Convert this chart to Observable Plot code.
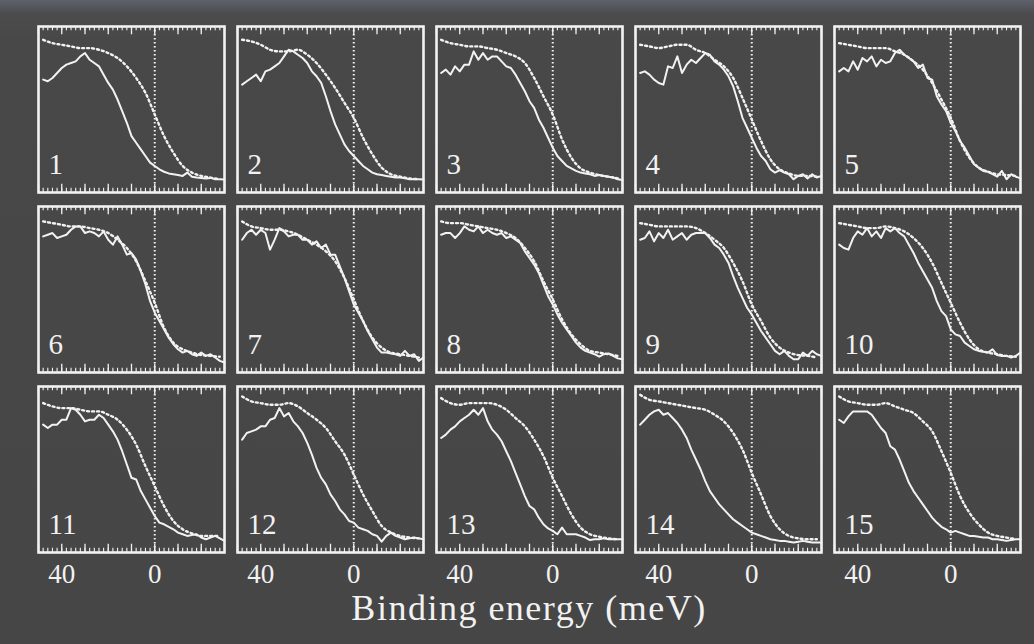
<!DOCTYPE html>
<html>
<head>
<meta charset="utf-8">
<script src="https://cdn.jsdelivr.net/npm/d3@7"></script>
<script src="https://cdn.jsdelivr.net/npm/@observablehq/plot@0.6"></script>
<style>
  html, body { margin: 0; padding: 0; }
  body {
    width: 1034px; height: 644px; overflow: hidden; position: relative;
    background: linear-gradient(to bottom, #5e606a 0px, #585a62 5px, #4c4c4e 13px, #484848 40px, #464646 100%);
    font-family: "Liberation Serif", "DejaVu Serif", serif;
  }
  #chart { position: absolute; left: 0; top: 0; }
  #title {
    position: absolute; top: 587px; left: 529px; transform: translateX(-50%);
    color: #f2f2f2; font-size: 36px; letter-spacing: 1.5px; white-space: nowrap;
    font-family: "Liberation Serif", serif;
  }
</style>
</head>
<body>
<div id="chart"></div>
<div id="title">Binding energy (meV)</div>
<script>
// Sampling grid (meV) of the measured spectra, and of the reference edge.
const energy = [48, 46, 44, 42, 40, 38, 36, 34, 32, 30, 28, 26, 24, 22, 20, 18, 16, 14, 12, 10,
                8, 6, 4, 2, 0, -2, -4, -6, -8, -10, -12, -14, -16, -18, -20, -22, -24, -26, -28, -30];
const refEnergy = [48, 44, 40, 36, 32, 28, 24, 20, 16, 12, 8, 4, 0, -4, -8, -12, -16, -20, -24, -28];
const panelLabels = ["1", "2", "3", "4", "5", "6", "7", "8", "9", "10", "11", "12", "13", "14", "15"];
const axisTicks = [40, 0];

// Measured spectra (normalised intensity), one per panel.
const edc1 = [.68,.67,.69,.72,.75,.77,.78,.79,.82,.84, .80,.78,.76,.71,.66,.62,.56,.49,.42,.34,
              .30,.26,.22,.18,.16,.14,.125,.115,.11,.105, .10,.12,.095,.09,.088,.085,.088,.08,.08,.078];
const edc2 = [.65,.67,.69,.71,.67,.73,.74,.76,.78,.82, .86,.85,.83,.81,.78,.73,.70,.66,.58,.49,
              .41,.35,.29,.25,.22,.19,.16,.14,.12,.11, .105,.10,.095,.09,.09,.085,.08,.08,.08,.078];
const edc3 = [.72,.74,.71,.76,.73,.77,.77,.85,.80,.84, .80,.82,.82,.79,.76,.75,.71,.66,.61,.55,
              .51,.44,.39,.33,.27,.22,.19,.16,.145,.13, .12,.115,.11,.10,.105,.10,.095,.09,.08,.075];
const edc4 = [.72,.73,.71,.68,.66,.65,.76,.75,.82,.72, .77,.80,.78,.81,.84,.83,.79,.77,.74,.70,
              .64,.55,.45,.39,.33,.27,.22,.19,.14,.12, .135,.12,.11,.08,.10,.11,.085,.11,.09,.10];
const edc5 = [.73,.75,.73,.79,.74,.81,.79,.82,.76,.80, .78,.79,.84,.86,.83,.81,.79,.75,.77,.69,
              .68,.58,.53,.49,.42,.37,.31,.27,.22,.17, .15,.13,.125,.11,.095,.13,.08,.11,.095,.085];
const edc6 = [.82,.83,.84,.81,.82,.83,.86,.88,.88,.84, .85,.84,.82,.85,.80,.77,.82,.77,.71,.72,
              .68,.61,.53,.43,.36,.31,.26,.21,.17,.14, .12,.13,.11,.10,.12,.10,.11,.09,.07,.06];
const edc7 = [.80,.84,.86,.83,.86,.84,.74,.80,.87,.85, .82,.83,.83,.80,.80,.77,.79,.75,.77,.71,
              .71,.64,.57,.49,.41,.36,.31,.25,.20,.15, .12,.12,.115,.11,.10,.13,.10,.11,.07,.09];
const edc8 = [.83,.84,.84,.81,.84,.88,.86,.85,.88,.84, .86,.84,.83,.84,.81,.82,.80,.78,.73,.69,
              .65,.60,.53,.46,.41,.35,.30,.26,.22,.18, .15,.13,.12,.11,.095,.11,.115,.10,.085,.08];
const edc9 = [.80,.81,.85,.79,.84,.81,.86,.80,.82,.84, .80,.83,.84,.84,.84,.81,.77,.75,.71,.66,
              .58,.51,.45,.39,.35,.30,.25,.21,.17,.13, .11,.13,.10,.08,.08,.12,.10,.13,.11,.10];
const edc10 = [.77,.75,.74,.81,.85,.83,.87,.82,.85,.81, .87,.85,.87,.84,.82,.77,.72,.66,.61,.56,
               .51,.43,.37,.34,.26,.23,.22,.18,.16,.14, .13,.125,.12,.14,.105,.10,.10,.09,.10,.12];
const edc11 = [.77,.75,.77,.77,.80,.80,.87,.86,.83,.79, .80,.80,.83,.81,.77,.73,.68,.61,.53,.45,
               .44,.37,.32,.27,.22,.18,.17,.155,.14,.12, .11,.10,.105,.11,.09,.08,.09,.10,.085,.07];
const edc12 = [.68,.72,.73,.74,.76,.76,.80,.81,.87,.82, .84,.79,.76,.72,.66,.59,.51,.45,.41,.35,
               .31,.26,.23,.19,.18,.15,.14,.13,.11,.10, .065,.10,.12,.10,.09,.08,.085,.09,.085,.08];
const edc13 = [.69,.71,.74,.76,.79,.81,.83,.86,.83,.87, .79,.74,.71,.67,.61,.55,.48,.41,.34,.28,
               .26,.21,.17,.145,.13,.11,.15,.11,.11,.11, .10,.09,.075,.08,.08,.085,.08,.08,.08,.08];
const edc14 = [.77,.80,.83,.85,.86,.83,.84,.81,.78,.74, .69,.62,.56,.50,.43,.37,.33,.29,.26,.23,
               .20,.18,.16,.14,.12,.11,.10,.09,.08,.075, .07,.07,.065,.06,.065,.07,.065,.06,.06,.06];
const edc15 = [.80,.78,.82,.85,.85,.85,.85,.83,.79,.75, .72,.64,.62,.56,.49,.42,.37,.33,.29,.25,
               .21,.18,.155,.14,.12,.13,.12,.11,.10,.10, .095,.09,.09,.08,.08,.075,.07,.075,.08,.08];

// Reference Fermi edge (dotted), one per panel.
const ref1 = [.92,.90,.89,.88,.87,.87,.86,.84,.81,.76,.69,.60,.47,.34,.24,.16,.12,.10,.09,.08];
const ref2 = [.92,.91,.89,.86,.85,.85,.86,.83,.78,.71,.63,.54,.45,.33,.23,.15,.11,.095,.085,.08];
const ref3 = [.92,.90,.89,.88,.88,.87,.86,.84,.82,.78,.69,.58,.47,.32,.21,.145,.12,.105,.095,.085];
const ref4 = [.89,.88,.87,.88,.89,.89,.86,.84,.80,.76,.69,.57,.44,.31,.20,.14,.115,.10,.10,.095];
const ref5 = [.90,.89,.88,.87,.87,.87,.85,.83,.79,.74,.66,.56,.45,.31,.21,.15,.125,.11,.105,.10];
const ref6 = [.91,.90,.89,.88,.88,.87,.86,.84,.80,.75,.67,.55,.42,.27,.18,.14,.12,.105,.10,.095];
const ref7 = [.91,.88,.87,.86,.86,.85,.83,.80,.77,.73,.67,.57,.44,.31,.21,.15,.12,.11,.10,.09];
const ref8 = [.91,.90,.90,.89,.88,.87,.86,.84,.81,.75,.67,.55,.44,.32,.23,.17,.13,.12,.11,.10];
const ref9 = [.90,.89,.88,.88,.88,.88,.87,.84,.80,.75,.66,.55,.41,.31,.21,.15,.12,.105,.10,.09];
const ref10 = [.90,.89,.88,.87,.87,.88,.87,.85,.81,.75,.66,.54,.42,.30,.20,.14,.12,.11,.10,.095];
const ref11 = [.90,.88,.87,.87,.86,.85,.85,.83,.80,.74,.65,.52,.40,.28,.19,.14,.115,.10,.10,.10];
const ref12 = [.94,.91,.90,.89,.89,.90,.88,.84,.80,.75,.67,.59,.47,.35,.25,.16,.12,.10,.09,.085];
const ref13 = [.93,.90,.89,.90,.90,.90,.89,.86,.81,.76,.68,.58,.45,.34,.23,.15,.11,.095,.085,.08];
const ref14 = [.95,.92,.91,.90,.89,.88,.87,.86,.83,.79,.72,.62,.48,.35,.22,.14,.10,.085,.08,.08];
const ref15 = [.94,.91,.90,.89,.89,.90,.88,.86,.84,.79,.73,.61,.48,.34,.24,.17,.12,.10,.09,.08];

const edcs = [edc1, edc2, edc3, edc4, edc5, edc6, edc7, edc8, edc9, edc10, edc11, edc12, edc13, edc14, edc15];
const refs = [ref1, ref2, ref3, ref4, ref5, ref6, ref7, ref8, ref9, ref10, ref11, ref12, ref13, ref14, ref15];

// Long-form tables: panel i sits in column i % 5, row floor(i / 5).
const panels = panelLabels.map((label, i) => ({label, col: i % 5, row: Math.floor(i / 5)}));
const edcRows = panels.flatMap((p, i) => energy.map((e, j) => ({...p, e, v: edcs[i][j]})));
const refRows = panels.flatMap((p, i) => refEnergy.map((e, j) => ({...p, e, v: refs[i][j]})));

// Frame tick marks (top and bottom, pointing inward).
const minorTicks = d3.range(-30, 51, 2);
const majorTicks = d3.range(-30, 51, 10);

const ink = "#f2f2f2";
const serif = "'Liberation Serif', 'Times New Roman', serif";

const chart = Plot.plot({
  width: 1034,
  height: 600,
  marginLeft: 37,
  marginRight: 14,
  marginTop: 25,
  marginBottom: 47,
  style: {background: "transparent", color: ink, fontFamily: serif, overflow: "visible"},
  fx: {domain: [0, 1, 2, 3, 4], paddingInner: 0.066, paddingOuter: 0, axis: null},
  fy: {domain: [0, 1, 2], paddingInner: 0.077, paddingOuter: 0, axis: null},
  x: {domain: [50, -30], axis: null},
  y: {domain: [0, 1], axis: null},
  marks: [
    Plot.ruleX([0], {stroke: ink, strokeWidth: 2, strokeDasharray: "1.5,2.5"}),
    Plot.ruleX(minorTicks, {y1: 1, y2: 0.975, stroke: ink, strokeWidth: 1.1}),
    Plot.ruleX(minorTicks, {y1: 0, y2: 0.025, stroke: ink, strokeWidth: 1.1}),
    Plot.ruleX(majorTicks, {y1: 1, y2: 0.95, stroke: ink, strokeWidth: 1.3}),
    Plot.ruleX(majorTicks, {y1: 0, y2: 0.05, stroke: ink, strokeWidth: 1.3}),
    Plot.line(refRows, {x: "e", y: "v", z: "label", fx: "col", fy: "row",
      stroke: ink, strokeWidth: 2.4, strokeDasharray: "2,3", curve: "monotone-x"}),
    Plot.line(edcRows, {x: "e", y: "v", z: "label", fx: "col", fy: "row",
      stroke: ink, strokeWidth: 2, strokeLinejoin: "round"}),
    Plot.text(panels, {fx: "col", fy: "row", text: "label", frameAnchor: "bottom-left",
      dx: 10, dy: -19, textAnchor: "start", lineAnchor: "bottom", fontSize: 29,
      fontFamily: serif, fill: ink}),
    Plot.frame({stroke: ink, strokeWidth: 2.6}),
    Plot.axisX({ticks: axisTicks, tickSize: 0, tickPadding: 11, fontSize: 27, fontFamily: serif,
      label: null, fill: ink})
  ]
});

document.getElementById("chart").appendChild(chart);
</script>
</body>
</html>
